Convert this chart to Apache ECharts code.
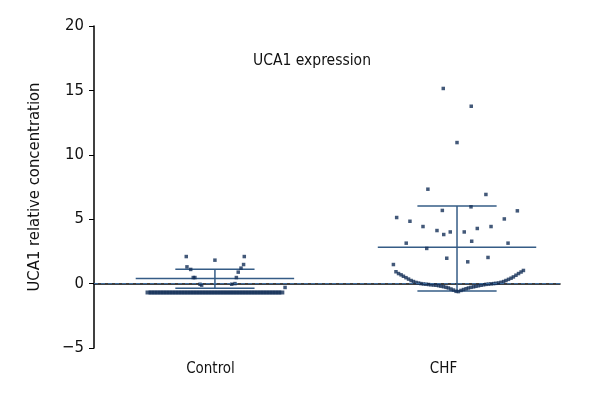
<!DOCTYPE html>
<html>
<head>
<meta charset="utf-8">
<script src="https://cdn.jsdelivr.net/npm/echarts@6/dist/echarts.min.js"></script>
<style>html,body{margin:0;padding:0;background:#fff}#c{width:600px;height:400px}</style>
</head>
<body>
<div id="c"></div>
<script>
// ---- data ----
const categories = ['Control', 'CHF'];
const yTicks = [-5, 0, 5, 10, 15, 20];
const chartTitle = 'UCA1 expression';
const yName = 'UCA1 relative concentration';

// Control: scattered points (x position on 0..2 layout axis, value)
const controlX = [0.396, 0.519, 0.645, 0.642, 0.399, 0.415, 0.631, 0.619, 0.611, 0.426, 0.433, 0.455, 0.462, 0.591, 0.605, 0.820];
const controlY = [2.10, 1.82, 2.10, 1.48, 1.30, 1.10, 1.20, 0.89, 0.47, 0.47, 0.47, -0.05, -0.12, -0.05, 0.00, -0.30];
// Control: dense cluster of near-identical low values
const controlLowY = [-0.69, -0.69, -0.69, -0.69, -0.69, -0.69, -0.69, -0.69, -0.69, -0.69,
                     -0.69, -0.69, -0.69, -0.69, -0.69, -0.69, -0.69, -0.69, -0.69, -0.69,
                     -0.69, -0.69, -0.69, -0.69, -0.69, -0.69, -0.69, -0.69, -0.69, -0.69,
                     -0.69, -0.69, -0.69, -0.69, -0.69, -0.69, -0.69, -0.69, -0.69, -0.69,
                     -0.69, -0.69, -0.69, -0.69, -0.69];

// CHF points
const chfX = [1.433, 1.682, 1.495, 1.618, 1.817, 1.299, 1.356, 1.761, 1.412, 1.704, 1.472, 1.501, 1.529, 1.589, 1.645,
              1.340, 1.621, 1.777, 1.428, 1.514, 1.604, 1.691, 1.285, 1.499, 1.619, 1.558,
              1.296, 1.307, 1.318, 1.328, 1.339, 1.350, 1.361, 1.371, 1.382, 1.393, 1.403, 1.414, 1.425, 1.436, 1.446,
              1.457, 1.468, 1.479, 1.489, 1.500, 1.511, 1.521, 1.532, 1.543, 1.554,
              1.564, 1.575, 1.586, 1.597, 1.607, 1.618, 1.629, 1.639, 1.650, 1.661, 1.672, 1.682, 1.693, 1.704,
              1.715, 1.725, 1.736, 1.747, 1.758, 1.768, 1.779, 1.790, 1.800, 1.811, 1.822, 1.833, 1.843];
const chfY = [7.33, 6.92, 5.68, 5.96, 5.65, 5.13, 4.84, 5.02, 4.43, 4.43, 4.12, 3.81, 4.01, 4.01, 4.28,
              3.14, 3.29, 3.14, 2.73, 1.97, 1.69, 2.03, 1.48, 15.15, 13.77, 10.95,
              0.92, 0.78, 0.68, 0.57, 0.46, 0.35, 0.24, 0.16, 0.09, 0.04, 0.00, -0.03, -0.05, -0.07, -0.09,
              -0.11, -0.13, -0.16, -0.20, -0.24, -0.29, -0.34, -0.42, -0.50, -0.60,
              -0.62, -0.53, -0.46, -0.40, -0.34, -0.29, -0.25, -0.21, -0.17, -0.13, -0.09, -0.06, -0.04, -0.02,
              0.00, 0.02, 0.05, 0.10, 0.16, 0.24, 0.33, 0.42, 0.52, 0.65, 0.78, 0.90, 1.02];

// mean and SD bars
const groupCenters = [0.519, 1.558];
const means = [0.40, 2.83];
const sdUpper = [1.12, 6.03];
const sdLower = [-0.36, -0.57];

// ---- build ----
const FONT = "'DejaVu Sans Condensed', 'DejaVu Sans', sans-serif";
const ctrlData = controlX.map((x, i) => [x, controlY[i]]);
const lowData = [];
const lowSpan = 0.57;
controlLowY.forEach((v, i) => {
  const x = groupCenters[0] + (i - (controlLowY.length - 1) / 2) * lowSpan / (controlLowY.length - 1);
  lowData.push([x, v]);
});
const chfData = chfX.map((x, i) => [x, chfY[i]]);

const meanHalf = 0.34, capHalf = 0.17;
const segs = [];
groupCenters.forEach((c, i) => {
  segs.push([c - meanHalf, means[i], c + meanHalf, means[i]]);
  segs.push([c - capHalf, sdUpper[i], c + capHalf, sdUpper[i]]);
  segs.push([c - capHalf, sdLower[i], c + capHalf, sdLower[i]]);
  segs.push([c, sdLower[i], c, sdUpper[i]]);
});

const chart = echarts.init(document.getElementById('c'), null, {renderer: 'canvas'});
const pointColor = '#142f58';
const barColor = '#355c86';
chart.setOption({
  animation: false,
  backgroundColor: '#fff',
  grid: {left: 94, right: 40, top: 26, bottom: 52},
  graphic: [{
    type: 'text', x: 312, y: 61,
    style: {text: chartTitle, font: '15.5px ' + FONT, fill: '#111', align: 'center', verticalAlign: 'middle'}
  }],
  xAxis: [{
    type: 'category', data: categories, boundaryGap: true,
    axisLine: {lineStyle: {color: '#000', width: 1.5}},
    axisTick: {alignWithLabel: true, length: 4, lineStyle: {color: '#000'}},
    axisLabel: {color: '#111', fontFamily: FONT, fontSize: 15, margin: 14}
  }, {
    type: 'value', min: 0, max: 2, show: false
  }],
  yAxis: {
    type: 'value', min: yTicks[0], max: yTicks[yTicks.length - 1], interval: 5,
    name: yName, nameLocation: 'middle', nameGap: 51, nameRotate: 90,
    nameTextStyle: {color: '#111', fontFamily: FONT, fontSize: 16.5},
    axisLine: {show: true, lineStyle: {color: '#000', width: 1.5}},
    axisTick: {show: true, length: 5, lineStyle: {color: '#000'}},
    splitLine: {show: false},
    axisLabel: {color: '#111', fontFamily: FONT, fontSize: 16.5, margin: 10,
      formatter: v => String(v).replace('-', '\u2212')}
  },
  series: [{
    type: 'line', xAxisIndex: 1, data: [[0, 0], [2, 0]], symbol: 'none', silent: true,
    lineStyle: {color: '#3f70a3', width: 1, type: [4, 3]}
  }, {
    type: 'custom', xAxisIndex: 1, data: segs, silent: true,
    renderItem: (params, api) => {
      const p1 = api.coord([api.value(0), api.value(1)]);
      const p2 = api.coord([api.value(2), api.value(3)]);
      return {type: 'line', shape: {x1: p1[0], y1: p1[1], x2: p2[0], y2: p2[1]},
        style: {stroke: barColor, lineWidth: 1.5}};
    }
  }, {
    type: 'scatter', xAxisIndex: 1, data: ctrlData, symbol: 'rect', symbolSize: 3.5,
    itemStyle: {color: pointColor}
  }, {
    type: 'scatter', xAxisIndex: 1, data: lowData, symbol: 'rect', symbolSize: [6, 4],
    itemStyle: {color: pointColor}
  }, {
    type: 'scatter', xAxisIndex: 1, data: chfData, symbol: 'rect', symbolSize: 3.5,
    itemStyle: {color: pointColor}
  }]
});
</script>
</body>
</html>
